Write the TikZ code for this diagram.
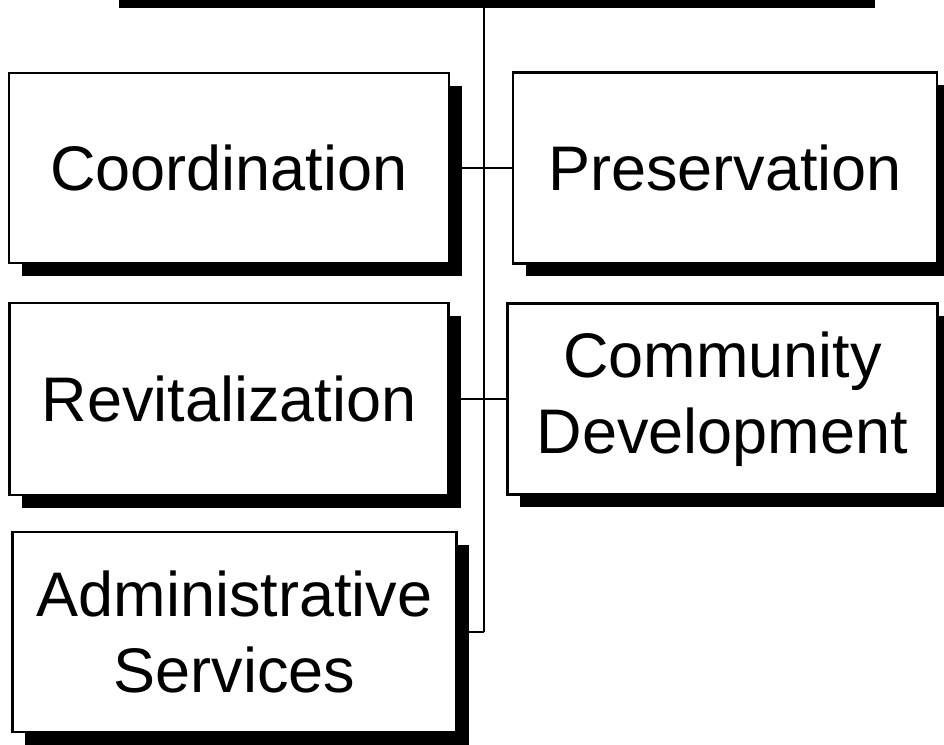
\documentclass[tikz,border=0pt]{standalone}
\usepackage{fontspec}
\setmainfont{Liberation Sans}
\usetikzlibrary{positioning,shadows}

\begin{document}
\begin{tikzpicture}[-,x=1pt,y=1pt,thick,
    unit/.style={rectangle,draw,line width=2.4pt,fill=white,align=center,inner sep=0pt,
        font=\fontsize{63}{76}\selectfont,
        drop shadow={shadow xshift=12.5pt,shadow yshift=-13pt,fill=black,opacity=1}},
    link/.style={line width=1.6pt}]

            \useasboundingbox (0,0) rectangle (944,744);

            % shadow of the head box, cut off at the top
            \fill[black] (119,736) rectangle (875,750);
            \coordinate (top) at (484,737);

            \node[unit, minimum width=440pt, minimum height=190pt] (1) at (229,576) {Coordination};
            \node[unit, minimum width=424pt, minimum height=191pt] (2) [right of = 1, node distance=496pt] {Preservation};
            \node[unit, minimum width=439pt, minimum height=192pt] (3) [below of = 1, node distance=231pt] {Revitalization};
            \node[unit, minimum width=430pt, minimum height=191pt] (4) [right of = 3, node distance=493.5pt] {Community\\Development};
            \node[unit, minimum width=444pt, minimum height=200pt] (5) [below of = 3, node distance=233pt, xshift=5.5pt] {Administrative\\Services};

            \coordinate (end) at (top |- 5.east);

            \draw[link] (top) to (end);
            \draw[link] (5.east) to (end);
            \draw[link] (1.east) to (2.west);
            \draw[link] (3.east) to (4.west);

            ;
        \end{tikzpicture}
\end{document}
